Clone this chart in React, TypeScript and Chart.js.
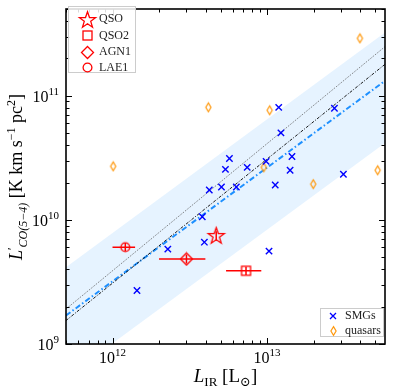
import React, { useEffect, useRef } from 'react';
import { Chart, registerables } from 'chart.js';

Chart.register(...registerables);

// ---- axis ranges ----
const X_MIN = 5e11;
const X_MAX = 5.8e13;
const Y_MIN = 1e9;
const Y_MAX = 5e11;

// ---- tick labels (major decades) ----
const xTickDecades = [12, 13];
const yTickDecades = [9, 10, 11];

// ---- SMGs ----
const smgLIR = [1.44e12, 2.28e12, 3.81e12, 3.93e12, 4.23e12, 5.07e12, 5.38e12, 5.71e12, 6.33e12, 7.44e12, 9.86e12, 1.03e13, 1.13e13, 1.19e13, 1.23e13, 1.41e13, 1.45e13, 2.73e13, 3.12e13];
const smgLCO = [2.70e9, 5.81e9, 1.06e10, 6.61e9, 1.74e10, 1.84e10, 2.55e10, 3.12e10, 1.84e10, 2.65e10, 2.96e10, 5.60e9, 1.91e10, 8.07e10, 5.02e10, 2.51e10, 3.24e10, 7.93e10, 2.33e10];

// ---- quasars ----
const qsoLIR = [1.01e12, 4.17e12, 1.04e13, 9.53e12, 1.99e13, 3.99e13, 5.20e13];
const qsoLCO = [2.70e10, 8.07e10, 7.64e10, 2.65e10, 1.94e10, 2.90e11, 2.51e10];

// ---- targets ----
const targetNames = ['QSO', 'QSO2', 'AGN1', 'LAE1'];
const targetLIR = [4.69e12, 7.31e12, 3.01e12, 1.21e12];
const targetLIRlo = [4.69e12, 5.43e12, 2.0e12, 1.0e12];
const targetLIRhi = [4.69e12, 9.18e12, 3.99e12, 1.40e12];
const targetLCO = [7.50e9, 3.89e9, 4.84e9, 6.03e9];
const targetLCOlo = [6.9e9, 3.6e9, 4.45e9, 5.6e9];
const targetLCOhi = [8.1e9, 4.2e9, 5.25e9, 6.5e9];

// ---- relations: log L'CO = norm + slope * (log LIR - 12) ----
const relSlopes = [1.0, 1.024, 0.916]; // black dashed, grey dotted, blue dash-dot
const relNorms = [9.49, 9.59, 9.505];
const bandOffsets = [0.39, -0.5]; // around blue relation (dex)

const FONT = '"Liberation Serif", "DejaVu Serif", serif';
const RED = '#ff0000';
const ORANGE = '#ff9a10';
const BLUE = '#0000ff';

function relLine(slope: number, norm: number, off = 0) {
  return [X_MIN, X_MAX].map((x) => ({ x, y: Math.pow(10, norm + off + slope * (Math.log10(x) - 12)) }));
}

function makeImg(w: number, h: number, draw: (c: CanvasRenderingContext2D) => void) {
  const cv = document.createElement('canvas');
  cv.width = w;
  cv.height = h;
  const c = cv.getContext('2d')!;
  c.translate(w / 2, h / 2);
  draw(c);
  return cv;
}

function buildMarkers() {
  const star = makeImg(21, 21, (c) => {
    const R = 8.5, r = 3.4;
    c.beginPath();
    for (let i = 0; i < 10; i++) {
      const a = -Math.PI / 2 + (i * Math.PI) / 5;
      const rr = i % 2 === 0 ? R : r;
      const px = Math.cos(a) * rr, py = Math.sin(a) * rr + 0.8;
      if (i === 0) c.moveTo(px, py); else c.lineTo(px, py);
    }
    c.closePath();
    c.strokeStyle = RED;
    c.lineWidth = 1.3;
    c.stroke();
  });
  const square = makeImg(13, 13, (c) => {
    c.strokeStyle = RED;
    c.lineWidth = 1.3;
    c.strokeRect(-4.5, -4.5, 9, 9);
  });
  const diamond = makeImg(15, 15, (c) => {
    c.beginPath();
    c.moveTo(0, -6); c.lineTo(6, 0); c.lineTo(0, 6); c.lineTo(-6, 0); c.closePath();
    c.strokeStyle = RED;
    c.lineWidth = 1.3;
    c.stroke();
  });
  const circle = makeImg(13, 13, (c) => {
    c.beginPath();
    c.arc(0, 0, 4.4, 0, Math.PI * 2);
    c.strokeStyle = RED;
    c.lineWidth = 1.3;
    c.stroke();
  });
  const thinDiamond = makeImg(9, 12, (c) => {
    c.beginPath();
    c.moveTo(0, -4.4); c.lineTo(2.6, 0); c.lineTo(0, 4.4); c.lineTo(-2.6, 0); c.closePath();
    c.strokeStyle = ORANGE;
    c.lineWidth = 1.2;
    c.stroke();
  });
  const xcross = makeImg(10, 10, (c) => {
    c.beginPath();
    c.moveTo(-3, -3); c.lineTo(3, 3); c.moveTo(3, -3); c.lineTo(-3, 3);
    c.strokeStyle = BLUE;
    c.lineWidth = 1.3;
    c.stroke();
  });
  return { star, square, diamond, circle, thinDiamond, xcross };
}

type Run = { t: string; f: string; dy?: number };

function drawRuns(ctx: CanvasRenderingContext2D, runs: Run[], x: number, y: number, align: 'left' | 'center' | 'right') {
  let total = 0;
  for (const r of runs) {
    ctx.font = r.f;
    total += ctx.measureText(r.t).width;
  }
  let cx = align === 'center' ? x - total / 2 : align === 'right' ? x - total : x;
  ctx.textAlign = 'left';
  for (const r of runs) {
    ctx.font = r.f;
    ctx.fillText(r.t, cx, y + (r.dy || 0));
    cx += ctx.measureText(r.t).width;
  }
}

export default function App() {
  const ref = useRef<HTMLCanvasElement | null>(null);

  useEffect(() => {
    if (!ref.current) return;
    const mk = buildMarkers();
    const targetImgs = [mk.star, mk.square, mk.diamond, mk.circle];

    const decor = {
      id: 'decor',
      afterDatasetsDraw(chart: any) {
        const { ctx, chartArea: a, scales } = chart;
        const xs = scales.x, ys = scales.y;
        ctx.save();
        ctx.beginPath();
        ctx.rect(a.left, a.top, a.right - a.left, a.bottom - a.top);
        ctx.clip();
        ctx.strokeStyle = RED;
        ctx.lineWidth = 1.5;
        for (let i = 0; i < targetLIR.length; i++) {
          const px = xs.getPixelForValue(targetLIR[i]);
          const py = ys.getPixelForValue(targetLCO[i]);
          ctx.beginPath();
          ctx.moveTo(xs.getPixelForValue(targetLIRlo[i]), py);
          ctx.lineTo(xs.getPixelForValue(targetLIRhi[i]), py);
          ctx.moveTo(px, ys.getPixelForValue(targetLCOlo[i]));
          ctx.lineTo(px, ys.getPixelForValue(targetLCOhi[i]));
          ctx.stroke();
        }
        ctx.restore();
      },
      afterDraw(chart: any) {
        const { ctx, chartArea: a, scales } = chart;
        const xs = scales.x, ys = scales.y;
        ctx.save();
        // ticks
        ctx.strokeStyle = '#000';
        ctx.lineWidth = 1;
        ctx.beginPath();
        for (let d = 11; d <= 13; d++) {
          for (let m = 1; m <= 9; m++) {
            const v = m * Math.pow(10, d);
            if (v < X_MIN || v > X_MAX) continue;
            const px = Math.round(xs.getPixelForValue(v)) + 0.5;
            const len = m === 1 ? 6 : 3.5;
            ctx.moveTo(px, a.bottom); ctx.lineTo(px, a.bottom - len);
            ctx.moveTo(px, a.top); ctx.lineTo(px, a.top + len);
          }
        }
        for (let d = 9; d <= 11; d++) {
          for (let m = 1; m <= 9; m++) {
            const v = m * Math.pow(10, d);
            if (v < Y_MIN || v > Y_MAX) continue;
            const py = Math.round(ys.getPixelForValue(v)) + 0.5;
            const len = m === 1 ? 6 : 3.5;
            ctx.moveTo(a.left, py); ctx.lineTo(a.left + len, py);
            ctx.moveTo(a.right, py); ctx.lineTo(a.right - len, py);
          }
        }
        ctx.stroke();
        // frame
        ctx.lineWidth = 1.6;
        ctx.strokeRect(a.left, a.top, a.right - a.left, a.bottom - a.top);

        // tick labels
        ctx.fillStyle = '#000';
        ctx.textBaseline = 'alphabetic';
        const big = `16px ${FONT}`;
        const sup = `11px ${FONT}`;
        for (const d of xTickDecades) {
          const px = xs.getPixelForValue(Math.pow(10, d));
          drawRuns(ctx, [{ t: '10', f: big }, { t: String(d), f: sup, dy: -7 }], px, a.bottom + 19, 'center');
        }
        for (const d of yTickDecades) {
          const py = ys.getPixelForValue(Math.pow(10, d));
          drawRuns(ctx, [{ t: '10', f: big }, { t: String(d), f: sup, dy: -7 }], a.left - 7, py + 6, 'right');
        }

        // axis titles
        const tf = `19px ${FONT}`;
        const ti = `italic 19px ${FONT}`;
        const sf = `13px ${FONT}`;
        const si = `italic 13px ${FONT}`;
        drawRuns(ctx, [
          { t: 'L', f: ti },
          { t: 'IR', f: sf, dy: 4 },
          { t: ' [L', f: tf },
          { t: '\u2299', f: sf, dy: 4 },
          { t: ']', f: tf },
        ], (a.left + a.right) / 2, 382, 'center');
        const yf = `18px ${FONT}`;
        const yi = `italic 18px ${FONT}`;
        const ys12 = `12px ${FONT}`;
        const yi12 = `italic 12px ${FONT}`;
        ctx.save();
        ctx.translate(22, 177);
        ctx.rotate(-Math.PI / 2);
        drawRuns(ctx, [
          { t: 'L', f: yi },
          { t: '\u2032', f: ys12, dy: -6 },
          { t: 'CO(5\u22124)', f: yi12, dy: 5 },
          { t: ' [K km s', f: yf },
          { t: '\u22121', f: ys12, dy: -7 },
          { t: ' pc', f: yf },
          { t: '2', f: ys12, dy: -7 },
          { t: ']', f: yf },
        ], 0, 0, 'center');
        ctx.restore();

        // legends
        const lf = `12px ${FONT}`;
        ctx.fillStyle = 'rgba(255,255,255,0.85)';
        ctx.strokeStyle = '#cccccc';
        ctx.lineWidth = 1;
        ctx.fillRect(68.5, 6.5, 67, 66);
        ctx.strokeRect(68.5, 6.5, 67, 66);
        const ly = [19, 35.7, 52, 67.5];
        ctx.textBaseline = 'middle';
        for (let i = 0; i < targetNames.length; i++) {
          const img = targetImgs[i];
          ctx.drawImage(img, Math.round(87.5 - img.width / 2), Math.round(ly[i] - img.height / 2));
          ctx.fillStyle = '#222';
          ctx.font = lf;
          ctx.textAlign = 'left';
          ctx.fillText(targetNames[i], 99, ly[i]);
        }
        ctx.fillStyle = 'rgba(255,255,255,0.85)';
        ctx.fillRect(320.5, 308.5, 63, 28);
        ctx.strokeRect(320.5, 308.5, 63, 28);
        const l2 = [
          { img: mk.xcross, t: 'SMGs', y: 315.5 },
          { img: mk.thinDiamond, t: 'quasars', y: 331 },
        ];
        for (const e of l2) {
          ctx.drawImage(e.img, Math.round(333 - e.img.width / 2), Math.round(e.y - e.img.height / 2));
          ctx.fillStyle = '#222';
          ctx.font = lf;
          ctx.fillText(e.t, 345, e.y);
        }
        ctx.restore();
      },
    };

    const chart = new Chart(ref.current, {
      type: 'scatter',
      data: {
        datasets: [
          {
            label: 'targets',
            data: targetLIR.map((x, i) => ({ x, y: targetLCO[i] })),
            pointStyle: targetImgs as any,
            pointRadius: 8,
            order: 0,
          },
          {
            label: 'SMGs',
            data: smgLIR.map((x, i) => ({ x, y: smgLCO[i] })),
            pointStyle: 'crossRot',
            pointRadius: 4.5,
            borderColor: BLUE,
            backgroundColor: BLUE,
            borderWidth: 1.4,
            order: 1,
          },
          {
            label: 'quasars',
            data: qsoLIR.map((x, i) => ({ x, y: qsoLCO[i] })),
            pointStyle: mk.thinDiamond as any,
            pointRadius: 5,
            order: 1,
          },
          {
            label: 'rel-black',
            data: relLine(relSlopes[0], relNorms[0]),
            showLine: true,
            pointRadius: 0,
            borderColor: '#000',
            borderWidth: 0.9,
            borderDash: [3, 1.5, 1, 1.5],
            order: 2,
          },
          {
            label: 'rel-grey',
            data: relLine(relSlopes[1], relNorms[1]),
            showLine: true,
            pointRadius: 0,
            borderColor: '#555',
            borderWidth: 0.9,
            borderDash: [1, 1.3],
            order: 2,
          },
          {
            label: 'rel-blue',
            data: relLine(relSlopes[2], relNorms[2]),
            showLine: true,
            pointRadius: 0,
            borderColor: '#1e90ff',
            borderWidth: 2,
            borderDash: [5.5, 2.5, 1.5, 2.5],
            order: 2,
          },
          {
            label: 'band-up',
            data: relLine(relSlopes[2], relNorms[2], bandOffsets[0]),
            showLine: true,
            pointRadius: 0,
            borderWidth: 0,
            borderColor: 'transparent',
            fill: false,
            order: 3,
          },
          {
            label: 'band-lo',
            data: relLine(relSlopes[2], relNorms[2], bandOffsets[1]),
            showLine: true,
            pointRadius: 0,
            borderWidth: 0,
            borderColor: 'transparent',
            backgroundColor: 'rgba(30,144,255,0.11)',
            fill: '-1',
            order: 3,
          },
        ],
      },
      options: {
        animation: false,
        responsive: false,
        layout: { padding: { left: 66, right: 7, top: 4, bottom: 47 } },
        scales: {
          x: { type: 'logarithmic', min: X_MIN, max: X_MAX, display: false },
          y: { type: 'logarithmic', min: Y_MIN, max: Y_MAX, display: false },
        },
        plugins: { legend: { display: false }, tooltip: { enabled: false } },
      },
      plugins: [decor],
    });
    return () => chart.destroy();
  }, []);

  return (
    <canvas
      ref={ref}
      width={394}
      height={391}
      style={{ position: 'fixed', left: 0, top: 0, width: 394, height: 391, display: 'block' }}
    />
  );
}
